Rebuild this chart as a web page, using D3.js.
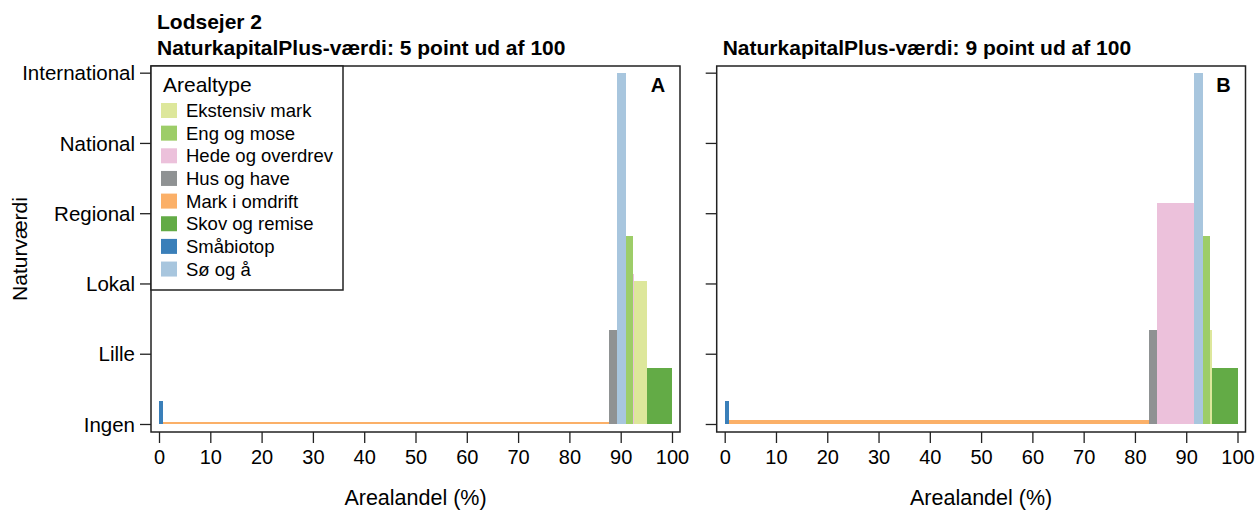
<!DOCTYPE html>
<html>
<head>
<meta charset="utf-8">
<script src="https://cdn.jsdelivr.net/npm/d3@7"></script>
<style>
  body { margin: 0; background: #fff; }
  svg text { font-family: "Liberation Sans", Arial, Helvetica, sans-serif; fill: #000; }
</style>
</head>
<body>
<svg id="chart" width="1259" height="511"></svg>
<script>
// arealtyper (legend order) and colours
const arealtyper = ["Ekstensiv mark", "Eng og mose", "Hede og overdrev", "Hus og have",
                    "Mark i omdrift", "Skov og remise", "Småbiotop", "Sø og å"];
const farver = ["#dde79b", "#9dcd68", "#ecc1db", "#8f9293", "#fbb068", "#63ab46", "#3a7fb9", "#a8c6de"];

const naturLabels = ["Ingen", "Lille", "Lokal", "Regional", "National", "International"];
const xTicks = [0, 10, 20, 30, 40, 50, 60, 70, 80, 90, 100];

// panel A: bar order, area share (%) and nature value (0-5)
const typerA = ["Småbiotop", "Mark i omdrift", "Hus og have", "Sø og å", "Eng og mose",
                "Hede og overdrev", "Ekstensiv mark", "Skov og remise"];
const andelA = [0.8, 87.0, 1.5, 1.7, 1.4, 0.1, 2.7, 4.8];
const vaerdiA = [0.33, 0.025, 1.34, 5.0, 2.68, 2.14, 2.04, 0.8];

// panel B
const typerB = ["Småbiotop", "Mark i omdrift", "Hus og have", "Hede og overdrev", "Sø og å",
                "Eng og mose", "Ekstensiv mark", "Skov og remise"];
const andelB = [0.9, 81.9, 1.5, 7.2, 1.7, 1.5, 0.3, 5.0];
const vaerdiB = [0.33, 0.055, 1.34, 3.14, 5.0, 2.68, 1.34, 0.8];

const svg = d3.select("#chart");
const color = d3.scaleOrdinal().domain(arealtyper).range(farver);

const plotTop = 66, plotBottom = 432;
const y = d3.scaleLinear().domain([-0.114, 5.095]).range([plotBottom, plotTop]);

function panel(x0, x1, typer, andel, vaerdi, letter, titles, showLabels) {
  const x = d3.scaleLinear().domain([-1.56, 101.56]).range([x0, x1]);
  const g = svg.append("g");

  // bars, laid end to end along the cumulative area share
  let cum = 0;
  const bars = typer.map((t, i) => {
    const b = {type: t, start: cum, end: cum + andel[i], v: vaerdi[i]};
    cum += andel[i];
    return b;
  });
  g.selectAll("rect.bar").data(bars).enter().append("rect")
    .attr("class", "bar")
    .attr("x", d => x(d.start))
    .attr("width", d => x(d.end) - x(d.start))
    .attr("y", d => y(d.v))
    .attr("height", d => Math.max(1, y(0) - y(d.v)))
    .attr("fill", d => color(d.type))
    .attr("shape-rendering", "crispEdges");

  // x axis
  const xa = g.append("g").attr("transform", `translate(0,${plotBottom})`)
    .call(d3.axisBottom(x).tickValues(xTicks).tickSize(11).tickPadding(7).tickFormat(d3.format("d")));
  xa.select(".domain").remove();
  xa.selectAll("line").attr("stroke", "#222").attr("stroke-width", 1.3);
  xa.selectAll("text").style("font-size", "20px").attr("fill", "#000");

  // y axis
  const ya = g.append("g").attr("transform", `translate(${x0},0)`)
    .call(d3.axisLeft(y).tickValues(d3.range(6)).tickSize(11).tickPadding(5)
      .tickFormat(showLabels ? (d => naturLabels[d]) : ""));
  ya.select(".domain").remove();
  ya.selectAll("line").attr("stroke", "#222").attr("stroke-width", 1.3);
  ya.selectAll("text").style("font-size", "20.5px").attr("fill", "#000").attr("dy", "0.35em");

  // frame
  g.append("rect").attr("x", x0).attr("y", plotTop).attr("width", x1 - x0).attr("height", plotBottom - plotTop)
    .attr("fill", "none").attr("stroke", "#222").attr("stroke-width", 1.5);

  g.append("text").attr("x", x1 - 22).attr("y", 92).attr("text-anchor", "middle")
    .style("font-size", "20px").style("font-weight", "bold").text(letter);

  titles.forEach((t, i) => {
    g.append("text").attr("x", x0 + 6).attr("y", 55 - (titles.length - 1 - i) * 26)
      .style("font-size", "21px").style("font-weight", "bold").text(t);
  });

  g.append("text").attr("x", (x0 + x1) / 2).attr("y", 505).attr("text-anchor", "middle")
    .style("font-size", "21.5px").text("Arealandel (%)");
  return g;
}

panel(151, 680, typerA, andelA, vaerdiA, "A",
  ["Lodsejer 2", "NaturkapitalPlus-værdi: 5 point ud af 100"], true);
panel(716.7, 1245.5, typerB, andelB, vaerdiB, "B",
  ["NaturkapitalPlus-værdi: 9 point ud af 100"], false);

svg.append("text").attr("transform", "translate(27,249) rotate(-90)")
  .attr("text-anchor", "middle").style("font-size", "21px").text("Naturværdi");

// legend
const leg = svg.append("g");
leg.append("rect").attr("x", 151).attr("y", 66).attr("width", 192).attr("height", 224)
  .attr("fill", "#fff").attr("stroke", "#222").attr("stroke-width", 1.5);
leg.append("text").attr("x", 163).attr("y", 92).style("font-size", "21px").text("Arealtype");
const items = leg.selectAll("g.item").data(arealtyper).enter().append("g")
  .attr("class", "item")
  .attr("transform", (d, i) => `translate(161,${110.5 + i * 22.65})`);
items.append("rect").attr("x", 0).attr("y", -7.5).attr("width", 16).attr("height", 15)
  .attr("fill", d => color(d));
items.append("text").attr("x", 25).attr("y", 0).attr("dy", "0.35em")
  .style("font-size", "18.5px").text(d => d);
</script>
</body>
</html>
